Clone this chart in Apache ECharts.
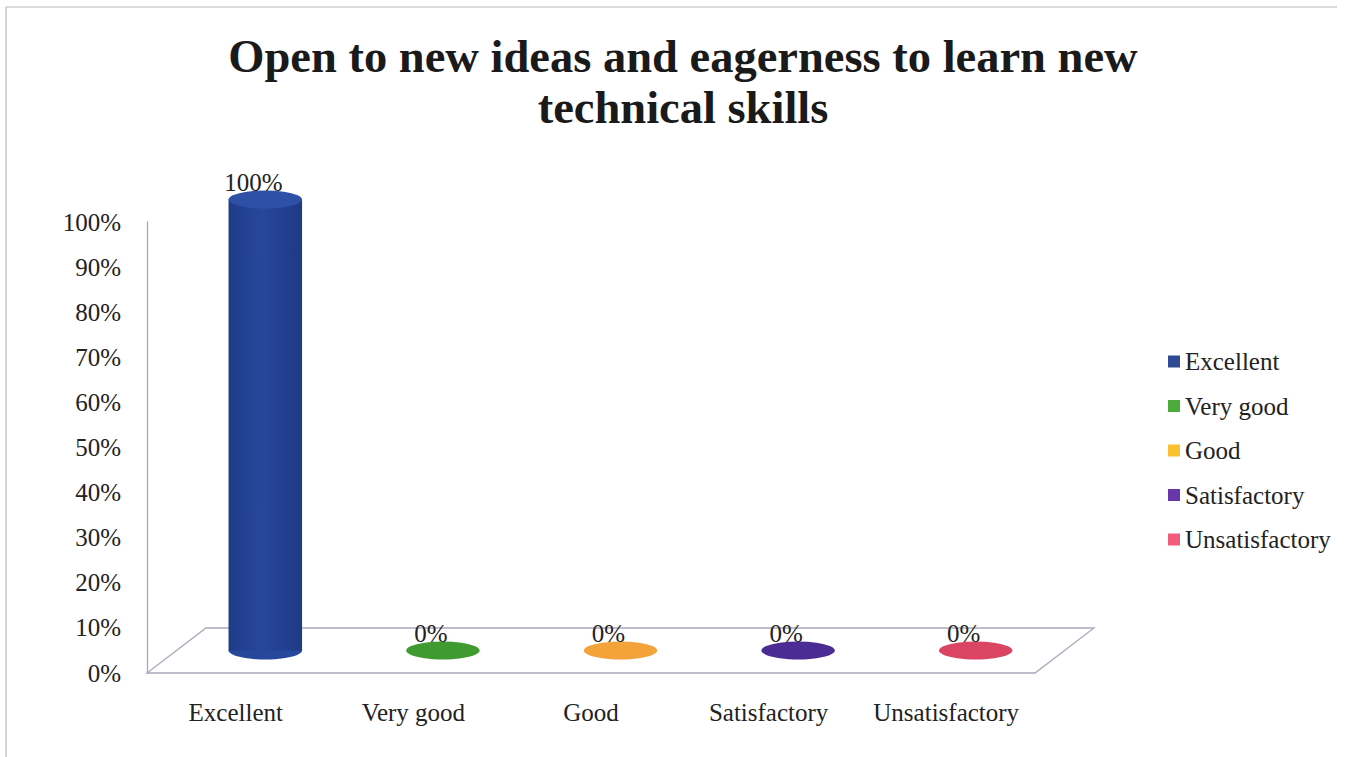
<!DOCTYPE html>
<html>
<head>
<meta charset="utf-8">
<script src="https://cdn.jsdelivr.net/npm/echarts@6/dist/echarts.min.js"></script>
<style>
  html, body { margin: 0; background: #fff; }
  #main { width: 1351px; height: 757px; }
</style>
</head>
<body>
<div id="main"></div>
<script>
const categories = ['Excellent', 'Very good', 'Good', 'Satisfactory', 'Unsatisfactory'];
const shares = [1, 0, 0, 0, 0];
const legendColors = ['#2f4b95', '#4dab3d', '#f9c02f', '#6935aa', '#f25b7b'];
const bodyColors = ['#27479b', '#3f9b30', '#f4a23a', '#4b2b94', '#d94563'];
const topColors = ['#2e50a6', '#3f9b30', '#f4a23a', '#4b2b94', '#d94563'];

const FONT = '"Liberation Serif", "Times New Roman", serif';
// half of the floor depth (cylinders sit in the middle of it)
const DX = 29.5, DY = -22.5;

const chart = echarts.init(document.getElementById('main'), null, { renderer: 'svg' });

function cylinder(idx) {
  return function (params, api) {
    const v = api.value(1);
    const base = api.coord([idx, 0]);
    const top = api.coord([idx, v]);
    const band = api.size([1, 0])[0];
    const rx = band * 0.207, ry = 9;
    const cx = base[0] + DX, yb = base[1] + DY, yt = top[1] + DY;
    const ell = (y, fill) => ({
      type: 'circle', x: cx, y: y, scaleY: ry / rx,
      shape: { cx: 0, cy: 0, r: rx }, style: { fill: fill }
    });
    const children = [];
    if (yb - yt > 0.5) {
      children.push(ell(yb, bodyColors[idx]));
      children.push({
        type: 'rect',
        shape: { x: cx - rx, y: yt, width: 2 * rx, height: yb - yt },
        style: {
          fill: new echarts.graphic.LinearGradient(0, 0, 1, 0, [
            { offset: 0, color: '#1f3c88' },
            { offset: 0.45, color: bodyColors[idx] },
            { offset: 1, color: '#1e3a85' }
          ])
        }
      });
    }
    children.push(ell(yt, topColors[idx]));
    children.push({
      type: 'text', x: cx - 12, y: yt - 17,
      style: {
        text: Math.round(v * 100) + '%', fontFamily: FONT, fontSize: 25,
        fill: '#222', align: 'center', verticalAlign: 'middle'
      }
    });
    return { type: 'group', children: children };
  };
}

const series = [{
  type: 'custom',
  name: 'floor',
  silent: true,
  z: 1,
  data: [[0, 0]],
  renderItem: function (params, api) {
    const cs = params.coordSys;
    const y0 = api.coord([0, 0])[1];
    const xl = cs.x, xr = cs.x + cs.width;
    return {
      type: 'polygon',
      shape: { points: [[xl, y0], [xr, y0], [xr + 2 * DX, y0 + 2 * DY], [xl + 2 * DX, y0 + 2 * DY]] },
      style: { fill: 'none', stroke: '#aba7bb', lineWidth: 1.3 }
    };
  }
}];

categories.forEach(function (name, i) {
  series.push({
    type: 'custom',
    name: name,
    z: 3,
    clip: false,
    itemStyle: { color: legendColors[i] },
    encode: { x: 0, y: 1 },
    data: [[i, shares[i]]],
    renderItem: cylinder(i)
  });
});

chart.setOption({
  backgroundColor: '#fff',
  animation: false,
  title: {
    text: 'Open to new ideas and eagerness to learn new\ntechnical skills',
    left: 678,
    top: 26,
    textAlign: 'center',
    textStyle: { fontFamily: FONT, fontWeight: 'bold', fontSize: 46.5, lineHeight: 51, color: '#1a1a1a' }
  },
  legend: {
    data: categories,
    orient: 'vertical',
    left: 1163,
    top: 344,
    icon: 'rect',
    itemWidth: 12,
    itemHeight: 12,
    itemGap: 19.5,
    textStyle: { fontFamily: FONT, fontSize: 25, lineHeight: 25, color: '#222' }
  },
  grid: { left: 147, right: 316, top: 222, bottom: 84 },
  xAxis: {
    type: 'category',
    data: categories,
    axisLine: { show: false },
    axisTick: { show: false },
    axisLabel: { interval: 0, hideOverlap: false, fontFamily: FONT, fontSize: 25, color: '#222', margin: 27 }
  },
  yAxis: {
    type: 'value',
    min: 0,
    max: 1,
    interval: 0.1,
    axisLine: { show: true, lineStyle: { color: '#aba7bb', width: 1.3 } },
    axisTick: { show: false },
    splitLine: { show: false },
    axisLabel: {
      fontFamily: FONT, fontSize: 25, color: '#222', margin: 26,
      formatter: function (v) { return Math.round(v * 100) + '%'; }
    }
  },
  graphic: [
    { type: 'line', shape: { x1: 6, y1: 7, x2: 1337, y2: 7 }, style: { stroke: '#cfcfcf', lineWidth: 1.5 } },
    { type: 'line', shape: { x1: 6, y1: 7, x2: 6, y2: 757 }, style: { stroke: '#c8c8c8', lineWidth: 1.5 } }
  ],
  series: series
});
</script>
</body>
</html>
